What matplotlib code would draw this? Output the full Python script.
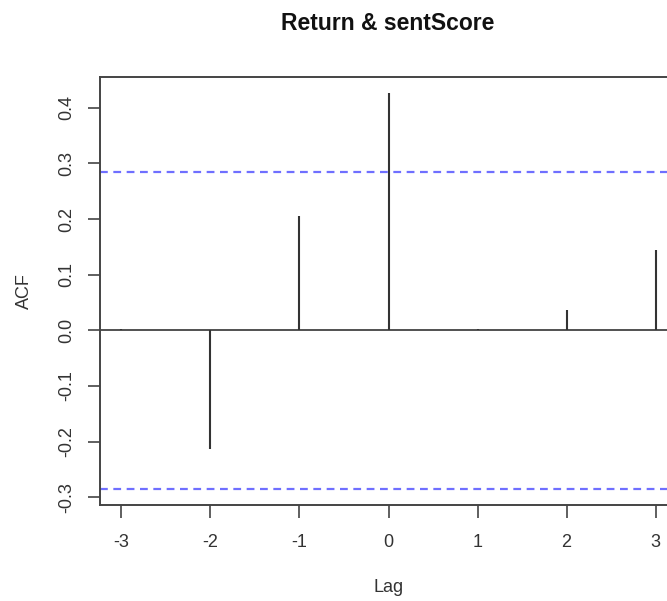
import matplotlib
matplotlib.use("Agg")
import matplotlib.pyplot as plt
import numpy as np

plt.rcParams['font.family'] = ['Liberation Sans', 'DejaVu Sans']

lags = [-3, -2, -1, 0, 1, 2, 3]
acf = [0.003, -0.213, 0.206, 0.427, 0.002, 0.037, 0.144]
clim = 0.2855
xticks = [-3, -2, -1, 0, 1, 2, 3]
yticks = [-0.3, -0.2, -0.1, 0.0, 0.1, 0.2, 0.3, 0.4]
title = "Return & sentScore"

W, H = 667, 601
fig = plt.figure(figsize=(W / 100, H / 100), dpi=100)
ax = fig.add_axes([100 / W, 1 - 505 / H, 577 / W, 428 / H])

ax.vlines(lags, 0, acf, color='#333333', lw=1.5)
ax.axhline(0, color='#333333', lw=1.2)
ax.axhline(clim, color='#6f6fff', lw=1.6, ls=(0, (3.5, 2.5)))
ax.axhline(-clim, color='#6f6fff', lw=1.6, ls=(0, (3.5, 2.5)))

span = 6
ax.set_xlim(-3 - 0.04 * span, 3 + 0.04 * span)
ymin = min(min(acf), -clim)
ymax = max(max(acf), clim)
yr = ymax - ymin
ax.set_ylim(ymin - 0.04 * yr, ymax + 0.04 * yr)

ax.set_xticks(xticks)
ax.set_xticklabels([str(t) for t in xticks])
ax.set_yticks(yticks)
ax.set_yticklabels([f"{t:.1f}" for t in yticks], rotation=90, va='center')
ax.tick_params(axis='both', length=9, width=1.2, color='#444444', labelsize=13,
               labelcolor='#333333')
ax.tick_params(axis='x', pad=12)
ax.tick_params(axis='y', pad=9)
for s in ax.spines.values():
    s.set_color('#444444')
    s.set_linewidth(1.4)

ax.set_xlabel("Lag", fontsize=13, color='#333333', labelpad=20)
ax.set_ylabel("ACF", fontsize=13, color='#333333', labelpad=18)
fig.text(388 / W, 1 - 24 / H, title, ha='center', va='center', fontsize=16.5,
         fontweight='bold', color='#111111')

fig.savefig("out.png", dpi=100)
